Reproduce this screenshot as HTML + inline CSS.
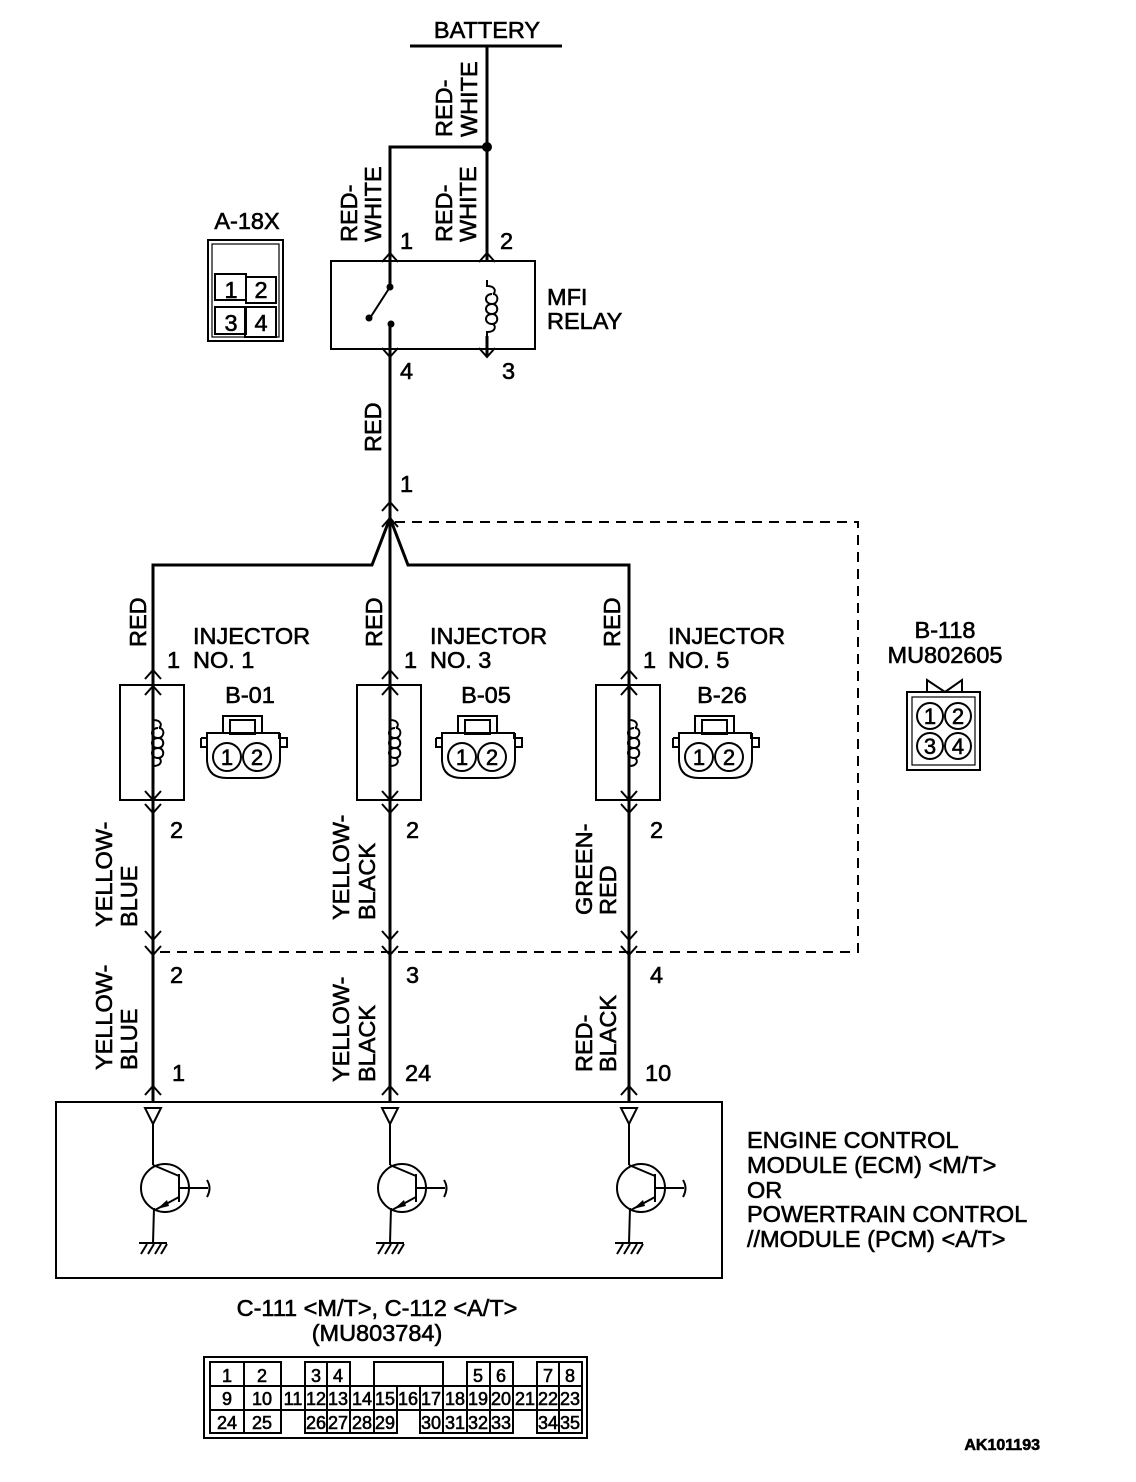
<!DOCTYPE html>
<html><head><meta charset="utf-8"><style>
html,body{margin:0;padding:0;background:#fff}
svg{display:block}
text{font-family:"Liberation Sans",Arial,sans-serif;font-size:23.5px;fill:#000;stroke:#000;stroke-width:0.6}
.w{stroke:#000;stroke-width:3;fill:none}
.t{stroke:#000;stroke-width:2;fill:none}
.tc{font-size:18px;stroke-width:0.6;text-anchor:middle}
</style></head><body>
<svg width="1136" height="1482" viewBox="0 0 1136 1482" xmlns="http://www.w3.org/2000/svg">
<defs>
<g id="up"><path class="t" d="M-8,9 L0,0 L8,9"/></g>
<g id="dn"><path class="t" d="M-8,-9 L0,0 L8,-9"/></g>
<g id="coil"><path class="t" d="M0,0 L0,6 C9,6 9,12 6,14 M6,14 C12,14 12,24 5,24 C-3,24 -3,14 5,14 M5,24 C12,24 12,34 5,34 C-3,34 -3,24 5,24 M5,34 C12,34 12,44 5,44 C-3,44 -3,34 5,34 M6,44 C9,46 9,52 0,52 L0,56"/></g>
<g id="inj">
<rect class="t" x="-33" y="685" width="64" height="115"/>
<line class="w" x1="0" y1="685" x2="0" y2="714"/>
<use href="#coil" x="0" y="714"/>
<line class="w" x1="0" y1="769" x2="0" y2="800"/>
<use href="#up" x="0" y="670"/><use href="#up" x="0" y="686"/>
<use href="#dn" x="0" y="800"/><use href="#dn" x="0" y="813"/>
</g>
<g id="conn">
<rect class="t" x="-22" y="-29" width="39" height="17"/>
<rect class="t" x="-15" y="-25" width="25" height="14"/>
<path class="t" d="M-44,-7 L-38,-7 L-38,-12 L34,-12 L34,-7 L42,-7 L42,2 L34,2"/>
<path class="t" d="M-44,-7 L-44,2 L-38,2"/>
<path class="t" d="M-38,-12 L-38,14 Q-38,33 -18,33 L15,33 Q35,33 35,14 L35,-12"/>
<circle class="t" cx="-18" cy="12" r="14"/><circle class="t" cx="12" cy="12" r="14"/>
<text class="tc" x="-18" y="20" style="font-size:22px">1</text>
<text class="tc" x="12" y="20" style="font-size:22px">2</text>
</g>
<g id="tr">
<path class="t" d="M-8,1108 L8,1108 L0,1124 Z"/>
<line class="t" x1="0" y1="1124" x2="0" y2="1165"/>
<circle class="t" cx="12" cy="1188" r="24"/>
<line class="t" x1="0" y1="1165" x2="26" y2="1176"/>
<line class="t" x1="26" y1="1174" x2="26" y2="1202"/>
<line class="t" x1="26" y1="1188" x2="55" y2="1188"/>
<path class="t" d="M54,1180 Q59,1188 54,1197"/>
<line class="t" x1="26" y1="1197" x2="2" y2="1210"/>
<path d="M4,1209 L14,1200 L16,1206 Z" fill="#000"/>
<line class="t" x1="1" y1="1208" x2="0" y2="1243"/>
<line class="t" x1="-14" y1="1243" x2="14" y2="1243"/>
<path class="t" d="M-6,1244 L-12,1254 M1,1244 L-5,1254 M8,1244 L2,1254 M14,1244 L8,1254"/>
</g>
</defs>

<!-- Battery -->
<text x="487" y="38" text-anchor="middle">BATTERY</text>
<line class="w" x1="410" y1="46" x2="562" y2="46"/>
<line class="w" x1="487" y1="46" x2="487" y2="261"/>
<circle cx="487" cy="147" r="5" fill="#000"/>
<polyline class="w" points="487,147 390,147 390,261"/>
<text transform="rotate(-90 452 137)" x="452" y="137">RED-</text>
<text transform="rotate(-90 477 137)" x="477" y="137">WHITE</text>
<text transform="rotate(-90 357 242)" x="357" y="242">RED-</text>
<text transform="rotate(-90 381 242)" x="381" y="242">WHITE</text>
<text transform="rotate(-90 452 242)" x="452" y="242">RED-</text>
<text transform="rotate(-90 476 242)" x="476" y="242">WHITE</text>
<text x="400" y="249">1</text><text x="500" y="249">2</text>

<!-- Relay -->
<rect class="t" x="331" y="261" width="204" height="88"/>
<use href="#up" x="390" y="253"/><use href="#up" x="487" y="253"/>
<line class="w" x1="390" y1="261" x2="390" y2="287"/>
<circle cx="390" cy="287" r="3.5" fill="#000"/>
<line class="t" x1="390" y1="287" x2="370" y2="318"/>
<circle cx="369" cy="318" r="3.5" fill="#000"/>
<circle cx="391" cy="324" r="3.5" fill="#000"/>
<line class="w" x1="390" y1="324" x2="390" y2="940"/>
<use href="#coil" x="487" y="280"/>
<line class="w" x1="487" y1="336" x2="487" y2="357"/>
<use href="#dn" x="390" y="357"/><use href="#dn" x="487" y="357"/>
<text x="547" y="305">MFI</text><text x="547" y="329">RELAY</text>
<text x="400" y="379">4</text><text x="502" y="379">3</text>

<!-- A-18X -->
<text x="247" y="229" text-anchor="middle">A-18X</text>
<rect class="t" x="208" y="240" width="75" height="101"/>
<rect x="212" y="244" width="67" height="93" fill="none" stroke="#000" stroke-width="1.2"/>
<rect class="t" x="215" y="274" width="31" height="26"/>
<rect class="t" x="246" y="277" width="30" height="26"/>
<rect class="t" x="215" y="307" width="31" height="27"/>
<rect class="t" x="245" y="307" width="31" height="30"/>
<text x="231" y="298" text-anchor="middle">1</text><text x="261" y="298" text-anchor="middle">2</text>
<text x="231" y="331" text-anchor="middle">3</text><text x="261" y="331" text-anchor="middle">4</text>

<!-- RED to split -->
<text transform="rotate(-90 381 452)" x="381" y="452">RED</text>
<text x="400" y="492">1</text>
<use href="#up" x="390" y="502"/><use href="#up" x="390" y="518"/>
<polyline class="w" points="153,940 153,565 372,565 390,518 408,565 629,565 629,940"/>
<path d="M395,522 L858,522 L858,952 L153,952" fill="none" stroke="#000" stroke-width="2" stroke-dasharray="10,7"/>

<!-- Injectors -->
<use href="#inj" x="153"/><use href="#inj" x="390"/><use href="#inj" x="629"/>
<text transform="rotate(-90 146 647)" x="146" y="647">RED</text>
<text transform="rotate(-90 382 647)" x="382" y="647">RED</text>
<text transform="rotate(-90 620 647)" x="620" y="647">RED</text>
<text x="167" y="668">1</text><text x="404" y="668">1</text><text x="643" y="668">1</text>
<text x="193" y="644">INJECTOR</text><text x="193" y="668">NO. 1</text>
<text x="430" y="644">INJECTOR</text><text x="430" y="668">NO. 3</text>
<text x="668" y="644">INJECTOR</text><text x="668" y="668">NO. 5</text>
<text x="250" y="703" text-anchor="middle">B-01</text>
<text x="486" y="703" text-anchor="middle">B-05</text>
<text x="722" y="703" text-anchor="middle">B-26</text>
<use href="#conn" x="245" y="745"/><use href="#conn" x="480" y="745"/><use href="#conn" x="717" y="745"/>
<text x="170" y="838">2</text><text x="406" y="838">2</text><text x="650" y="838">2</text>

<text transform="rotate(-90 112 927)" x="112" y="927">YELLOW-</text>
<text transform="rotate(-90 137 927)" x="137" y="927">BLUE</text>
<text transform="rotate(-90 349 920)" x="349" y="920">YELLOW-</text>
<text transform="rotate(-90 375 920)" x="375" y="920">BLACK</text>
<text transform="rotate(-90 592 915)" x="592" y="915">GREEN-</text>
<text transform="rotate(-90 616 915)" x="616" y="915">RED</text>

<!-- B-118 -->
<text x="945" y="638" text-anchor="middle">B-118</text>
<text x="945" y="663" text-anchor="middle">MU802605</text>
<path class="t" d="M927,692 L927,680 L945,692 L962,680 L962,692"/>
<rect class="t" x="907" y="692" width="73" height="78"/>
<rect x="912" y="697" width="63" height="68" fill="none" stroke="#000" stroke-width="1.2"/>
<circle class="t" cx="930" cy="716" r="13"/><circle class="t" cx="958" cy="716" r="13"/>
<circle class="t" cx="930" cy="746" r="13"/><circle class="t" cx="958" cy="746" r="13"/>
<text class="tc" x="930" y="724" style="font-size:22px">1</text><text class="tc" x="958" y="724" style="font-size:22px">2</text>
<text class="tc" x="930" y="754" style="font-size:22px">3</text><text class="tc" x="958" y="754" style="font-size:22px">4</text>

<!-- lower wires -->
<line class="w" x1="153" y1="940" x2="153" y2="1102"/>
<line class="w" x1="390" y1="940" x2="390" y2="1102"/>
<line class="w" x1="629" y1="940" x2="629" y2="1102"/>
<use href="#dn" x="153" y="940"/><use href="#dn" x="153" y="955"/>
<use href="#dn" x="390" y="940"/><use href="#dn" x="390" y="955"/>
<use href="#dn" x="629" y="940"/><use href="#dn" x="629" y="955"/>
<text x="170" y="983">2</text><text x="406" y="983">3</text><text x="650" y="983">4</text>
<text transform="rotate(-90 112 1070)" x="112" y="1070">YELLOW-</text>
<text transform="rotate(-90 137 1070)" x="137" y="1070">BLUE</text>
<text transform="rotate(-90 349 1082)" x="349" y="1082">YELLOW-</text>
<text transform="rotate(-90 375 1082)" x="375" y="1082">BLACK</text>
<text transform="rotate(-90 592 1072)" x="592" y="1072">RED-</text>
<text transform="rotate(-90 616 1072)" x="616" y="1072">BLACK</text>
<text x="172" y="1081">1</text><text x="405" y="1081">24</text><text x="645" y="1081">10</text>
<use href="#up" x="153" y="1086"/><use href="#up" x="390" y="1086"/><use href="#up" x="629" y="1086"/>

<!-- ECM -->
<rect class="t" x="56" y="1102" width="666" height="176"/>
<use href="#tr" x="153"/><use href="#tr" x="390"/><use href="#tr" x="629"/>
<text x="747" y="1148">ENGINE CONTROL</text>
<text x="747" y="1173">MODULE (ECM) &lt;M/T&gt;</text>
<text x="747" y="1198">OR</text>
<text x="747" y="1222">POWERTRAIN CONTROL</text>
<text x="747" y="1247">//MODULE (PCM) &lt;A/T&gt;</text>

<text x="377" y="1316" text-anchor="middle">C-111 &lt;M/T&gt;, C-112 &lt;A/T&gt;</text>
<text x="377" y="1341" text-anchor="middle">(MU803784)</text>

<!-- connector table -->
<rect class="t" x="204" y="1357" width="383" height="81"/>
<g class="t">
<rect x="210" y="1362" width="34" height="24"/><rect x="244" y="1362" width="37" height="24"/>
<rect x="305" y="1362" width="22" height="24"/><rect x="327" y="1362" width="23" height="24"/>
<rect x="374" y="1362" width="69" height="24"/>
<rect x="467" y="1362" width="23" height="24"/><rect x="490" y="1362" width="23" height="24"/>
<rect x="537" y="1362" width="22" height="24"/><rect x="559" y="1362" width="23" height="24"/>
<rect x="210" y="1386" width="372" height="24"/>
<path d="M244,1386V1410M281,1386V1410M305,1386V1410M327,1386V1410M350,1386V1410M374,1386V1410M397,1386V1410M420,1386V1410M443,1386V1410M467,1386V1410M490,1386V1410M513,1386V1410M537,1386V1410M559,1386V1410"/>
<rect x="210" y="1410" width="34" height="23"/><rect x="244" y="1410" width="37" height="23"/>
<rect x="305" y="1410" width="92" height="23"/>
<path d="M327,1410V1433M350,1410V1433M374,1410V1433M443,1410V1433M467,1410V1433M490,1410V1433"/>
<rect x="420" y="1410" width="93" height="23"/>
<rect x="537" y="1410" width="45" height="23"/><path d="M559,1410V1433"/>
</g>
<g>
<text class="tc" x="227" y="1382">1</text><text class="tc" x="262" y="1382">2</text>
<text class="tc" x="316" y="1382">3</text><text class="tc" x="338" y="1382">4</text>
<text class="tc" x="478" y="1382">5</text><text class="tc" x="501" y="1382">6</text>
<text class="tc" x="548" y="1382">7</text><text class="tc" x="570" y="1382">8</text>
<text class="tc" x="227" y="1405">9</text><text class="tc" x="262" y="1405">10</text><text class="tc" x="293" y="1405">11</text>
<text class="tc" x="316" y="1405">12</text><text class="tc" x="338" y="1405">13</text><text class="tc" x="362" y="1405">14</text>
<text class="tc" x="385" y="1405">15</text><text class="tc" x="408" y="1405">16</text><text class="tc" x="431" y="1405">17</text>
<text class="tc" x="455" y="1405">18</text><text class="tc" x="478" y="1405">19</text><text class="tc" x="501" y="1405">20</text>
<text class="tc" x="525" y="1405">21</text><text class="tc" x="548" y="1405">22</text><text class="tc" x="570" y="1405">23</text>
<text class="tc" x="227" y="1429">24</text><text class="tc" x="262" y="1429">25</text>
<text class="tc" x="316" y="1429">26</text><text class="tc" x="338" y="1429">27</text><text class="tc" x="362" y="1429">28</text>
<text class="tc" x="385" y="1429">29</text>
<text class="tc" x="431" y="1429">30</text><text class="tc" x="455" y="1429">31</text><text class="tc" x="478" y="1429">32</text>
<text class="tc" x="501" y="1429">33</text><text class="tc" x="548" y="1429">34</text><text class="tc" x="570" y="1429">35</text>
</g>
<text x="1040" y="1450" text-anchor="end" style="font-size:16px;font-weight:bold">AK101193</text>
</svg>
</body></html>
